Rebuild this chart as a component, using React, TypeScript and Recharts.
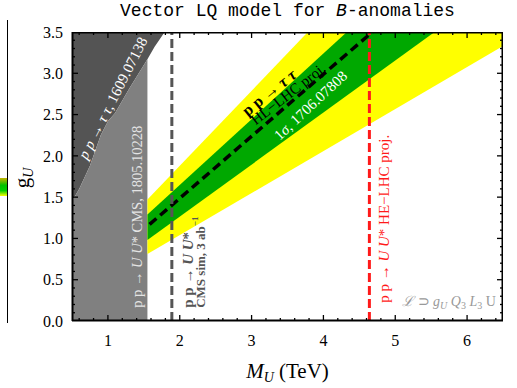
import React from 'react';
import { ComposedChart, XAxis, YAxis, Area, Line, Scatter, ReferenceLine } from 'recharts';

// ---- data ----
const xMajorTicks = [1, 2, 3, 4, 5, 6];
const yMajorTicks = [0, 0.5, 1, 1.5, 2, 2.5, 3, 3.5];
const xTicks = [0.6, 0.8, 1, 1.2, 1.4, 1.6, 1.8, 2, 2.2, 2.4, 2.6, 2.8, 3, 3.2, 3.4, 3.6, 3.8, 4, 4.2, 4.4, 4.6, 4.8, 5, 5.2, 5.4, 5.6, 5.8, 6, 6.2, 6.4];
const yTicks = [0, 0.1, 0.2, 0.3, 0.4, 0.5, 0.6, 0.7, 0.8, 0.9, 1, 1.1, 1.2, 1.3, 1.4, 1.5, 1.6, 1.7, 1.8, 1.9, 2, 2.1, 2.2, 2.3, 2.4, 2.5, 2.6, 2.7, 2.8, 2.9, 3, 3.1, 3.2, 3.3, 3.4, 3.5];

// pp -> tau tau (1609.07138) exclusion boundary
const tauTauM = [0.5, 0.6, 0.75, 0.9, 1.0, 1.1, 1.3, 1.55, 1.65, 1.75, 1.79];
const tauTauG = [1.45, 1.6, 1.88, 2.25, 2.42, 2.52, 2.82, 3.17, 3.32, 3.45, 3.5];
const cmsLimitM = 1.55;
const gMin = 0;
const gMax = 3.5;
const mMin = 0.5;
const mMax = 6.5;

// B-anomaly fit bands (1706.07808)
const bandM = [1.55, 6.5];
const yellowLow = [0.81, 3.33];
const yellowHigh = [1.47, 5.97];
const greenLow = [0.98, 4.1];
const greenHigh = [1.29, 5.23];

// HL-LHC pp -> tau tau projection
const projM = [1.58, 4.68];
const projG = [1.17, 3.5];

// vertical mass limits
const cmsSimM = 1.89;
const heLhcM = 4.64;

// annotation anchors (data coordinates)
const noteKeys = ['tau', 'cms', 'simA', 'simB', 'ppTT', 'hl', 'sigma', 'he', 'lag'];
const noteM = [1.07, 1.4, 2.11, 2.29, 3.24, 3.51, 3.82, 4.85, 6.4];
const noteG = [2.7, 0.16, 0.16, 0.16, 2.77, 2.75, 2.61, 0.22, 0.18];

// ---- derived tables ----
const darkData = tauTauM.map((m, i) => ({ m, r: [tauTauG[i], gMax] }));
const lightData = tauTauM.filter((m) => m <= cmsLimitM).map((m, i) => ({ m, r: [gMin, tauTauG[i]] }));
const yellowData = bandM.map((m, i) => ({ m, r: [yellowLow[i], yellowHigh[i]] }));
const greenData = bandM.map((m, i) => ({ m, r: [greenLow[i], greenHigh[i]] }));
const projData = projM.map((m, i) => ({ m, g: projG[i] }));
const frameData = [
  { m: mMin, g: gMin },
  { m: mMax, g: gMin },
  { m: mMax, g: gMax },
  { m: mMin, g: gMax },
  { m: mMin, g: gMin },
];
const bottomTickData = xTicks.map((m) => ({ m, g: gMin, v: m }));
const topTickData = xTicks.map((m) => ({ m, g: gMax, v: m }));
const leftTickData = yTicks.map((g) => ({ m: mMin, g, v: g }));
const rightTickData = yTicks.map((g) => ({ m: mMax, g, v: g }));
const noteData = noteKeys.map((k, i) => ({ m: noteM[i], g: noteG[i], k }));

const SERIF = '"Liberation Serif", "Times New Roman", serif';

const isMajorX = (v: number) => xMajorTicks.some((t) => Math.abs(t - v) < 1e-6);
const isMajorY = (v: number) => yMajorTicks.some((t) => Math.abs(t - v) < 1e-6);

const tickMark = (side: 'b' | 't' | 'l' | 'r') => (p: any) => {
  const { cx, cy, payload } = p;
  const v = payload.v;
  const major = side === 'b' || side === 't' ? isMajorX(v) : isMajorY(v);
  const len = major ? 6 : 3;
  let x2 = cx;
  let y2 = cy;
  if (side === 'b') y2 = cy - len;
  if (side === 't') y2 = cy + len;
  if (side === 'l') x2 = cx + len;
  if (side === 'r') x2 = cx - len;
  return <line x1={cx} y1={cy} x2={x2} y2={y2} stroke="#000" strokeWidth={1.3} />;
};

const rot = (angle: number, anchor: string, style: any, cx: number, cy: number, content: React.ReactNode) => (
  <text
    x={cx}
    y={cy}
    transform={`rotate(${angle} ${cx} ${cy})`}
    textAnchor={anchor}
    dominantBaseline="central"
    fontFamily={SERIF}
    {...style}
  >
    {content}
  </text>
);

const NoteShape = (p: any) => {
  const { cx, cy, payload } = p;
  switch (payload.k) {
    case 'tau':
      return rot(-63, 'middle', { fill: '#fff', fontSize: 15 }, cx, cy, (
        <>
          <tspan fontStyle="italic">p p</tspan> → <tspan fontStyle="italic">τ τ</tspan>, 1609.07138
        </>
      ));
    case 'cms':
      return rot(-90, 'start', { fill: '#e4e4e4', fontSize: 14.5 }, cx, cy, (
        <>
          p p → <tspan fontStyle="italic">U U</tspan>* CMS, 1805.10228
        </>
      ));
    case 'simA':
      return rot(-90, 'start', { fill: '#555', fontSize: 15, fontWeight: 'bold' }, cx, cy, (
        <>
          p p → <tspan fontStyle="italic">U U</tspan>*
        </>
      ));
    case 'simB':
      return rot(-90, 'start', { fill: '#555', fontSize: 13, fontWeight: 'bold' }, cx, cy, (
        <>
          CMS sim, 3 ab<tspan fontSize={9} dy={-6}>−1</tspan>
        </>
      ));
    case 'ppTT':
      return rot(-39, 'middle', { fill: '#000', fontSize: 16, fontWeight: 'bold' }, cx, cy, (
        <>
          p p → <tspan fontStyle="italic">τ τ</tspan>
        </>
      ));
    case 'hl':
      return rot(-38, 'middle', { fill: '#000', fontSize: 15 }, cx, cy, 'HL−LHC proj.');
    case 'sigma':
      return rot(-43, 'middle', { fill: '#fff', fontSize: 15 }, cx, cy, (
        <>
          1<tspan fontStyle="italic">σ</tspan>, 1706.07808
        </>
      ));
    case 'he':
      return rot(-90, 'start', { fill: '#ff1a1a', fontSize: 15 }, cx, cy, (
        <>
          p p → <tspan fontStyle="italic">U U</tspan>* HE−LHC proj.
        </>
      ));
    default:
      return (
        <text x={cx} y={cy} textAnchor="end" fontFamily={SERIF} fontSize={14} fill="#999">
          <tspan fontStyle="italic">ℒ</tspan> ⊃ <tspan fontStyle="italic">g</tspan>
          <tspan fontStyle="italic" fontSize={10} dy={3}>U</tspan>
          <tspan dy={-3}> </tspan>
          <tspan fontStyle="italic">Q</tspan>
          <tspan fontSize={10} dy={3}>3</tspan>
          <tspan dy={-3}> </tspan>
          <tspan fontStyle="italic">L</tspan>
          <tspan fontSize={10} dy={3}>3</tspan>
          <tspan dy={-3}> U</tspan>
        </text>
      );
  }
};

export default function App() {
  return (
    <div style={{ position: 'absolute', left: 0, top: 0, width: 517, height: 388, background: '#fff' }}>
      {/* sliver of the neighbouring panel */}
      <div style={{ position: 'absolute', left: 7, top: 20, width: 1, height: 303, background: '#000' }} />
      <div style={{ position: 'absolute', left: 0, top: 178, width: 7, height: 18, background: 'linear-gradient(#c8b400, #00c000 40%, #00d000 70%, #ffff00)' }} />
      <div
        style={{
          position: 'absolute',
          left: 72,
          top: 1,
          width: 431,
          textAlign: 'center',
          fontFamily: '"Liberation Mono", "DejaVu Sans Mono", monospace',
          fontSize: 18,
          lineHeight: '20px',
          color: '#000',
          whiteSpace: 'nowrap',
        }}
      >
        Vector LQ model for <i>B</i>-anomalies
      </div>
      {/* axis titles */}
      <div
        style={{
          position: 'absolute',
          left: 72,
          top: 359,
          width: 431,
          textAlign: 'center',
          fontFamily: SERIF,
          fontSize: 21,
          lineHeight: '24px',
          color: '#000',
          whiteSpace: 'nowrap',
        }}
      >
        <i>M</i>
        <i style={{ fontSize: 14, verticalAlign: -4 }}>U</i> (TeV)
      </div>
      <div
        style={{
          position: 'absolute',
          left: -8,
          top: 166,
          width: 60,
          height: 24,
          textAlign: 'center',
          fontFamily: SERIF,
          fontSize: 21,
          lineHeight: '24px',
          color: '#000',
          whiteSpace: 'nowrap',
          transform: 'rotate(-90deg)',
        }}
      >
        g<i style={{ fontSize: 14, verticalAlign: -4 }}>U</i>
      </div>
      <div style={{ position: 'absolute', left: 0, top: 0 }}>
        <ComposedChart width={517} height={388} margin={{ top: 32, right: 14, bottom: 0, left: 0 }}>
          <XAxis
            dataKey="m"
            type="number"
            domain={[mMin, mMax]}
            allowDataOverflow
            ticks={xMajorTicks}
            interval={0}
            tickLine={false}
            tickMargin={8}
            tick={{ fontSize: 16, fontFamily: SERIF, fill: '#000' }}
            axisLine={{ stroke: '#000', strokeWidth: 1 }}
            height={67}
          />
          <YAxis
            dataKey="g"
            type="number"
            domain={[gMin, gMax]}
            allowDataOverflow
            ticks={yMajorTicks}
            interval={0}
            tickLine={false}
            tickMargin={3}
            tickFormatter={(v: number) => v.toFixed(1)}
            tick={{ fontSize: 16, fontFamily: SERIF, fill: '#000' }}
            axisLine={{ stroke: '#000', strokeWidth: 1 }}
            width={72}
          />

          <Area data={darkData} dataKey="r" type="linear" fill="#545454" fillOpacity={1} stroke="none" isAnimationActive={false} />
          <Area data={lightData} dataKey="r" type="linear" fill="#808080" fillOpacity={1} stroke="none" isAnimationActive={false} />
          <Area data={yellowData} dataKey="r" type="linear" fill="#ffff00" fillOpacity={1} stroke="none" isAnimationActive={false} />
          <Area data={greenData} dataKey="r" type="linear" fill="#00a800" fillOpacity={1} stroke="none" isAnimationActive={false} />

          <Line data={projData} dataKey="g" type="linear" stroke="#000" strokeWidth={3.5} strokeDasharray="9 5" dot={false} isAnimationActive={false} />

          <ReferenceLine x={cmsSimM} stroke="#555" strokeWidth={3} strokeDasharray="9 4" />
          <ReferenceLine x={heLhcM} stroke="#ff1a1a" strokeWidth={3} strokeDasharray="9 4" />

          {/* inward tick marks on all four sides */}
          <Scatter data={bottomTickData} dataKey="g" shape={tickMark('b')} isAnimationActive={false} />
          <Scatter data={topTickData} dataKey="g" shape={tickMark('t')} isAnimationActive={false} />
          <Scatter data={leftTickData} dataKey="g" shape={tickMark('l')} isAnimationActive={false} />
          <Scatter data={rightTickData} dataKey="g" shape={tickMark('r')} isAnimationActive={false} />

          {/* frame */}
          <Line data={frameData} dataKey="g" type="linear" stroke="#000" strokeWidth={3} dot={false} isAnimationActive={false} />

          {/* annotations */}
          <Scatter data={noteData} dataKey="g" shape={NoteShape} isAnimationActive={false} />
        </ComposedChart>
      </div>
    </div>
  );
}
